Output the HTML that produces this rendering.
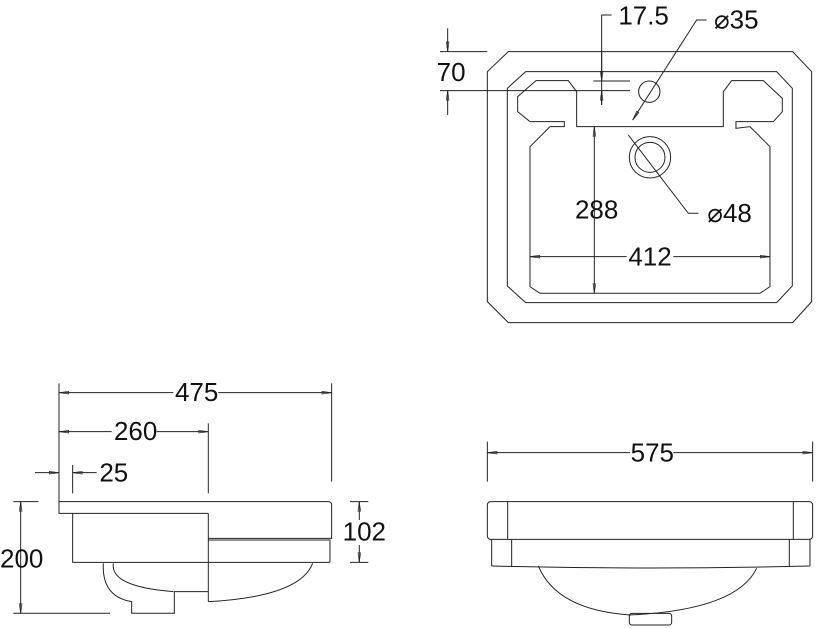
<!DOCTYPE html>
<html><head><style>html,body{margin:0;padding:0;background:#fff}svg{display:block}text{font-family:"Liberation Sans",sans-serif;font-size:78px;fill:#111}</style></head>
<body>
<svg width="821" height="629" viewBox="0 0 821 629" xmlns="http://www.w3.org/2000/svg">
<defs>
<marker id="a" markerUnits="userSpaceOnUse" markerWidth="32" markerHeight="14" refX="30" refY="7" orient="auto"><path d="M1,3 L30,7 L1,11 Z" fill="none" stroke="#222" stroke-width="2"/></marker>
<marker id="b" markerUnits="userSpaceOnUse" markerWidth="32" markerHeight="14" refX="2" refY="7" orient="auto"><path d="M31,3 L2,7 L31,11 Z" fill="none" stroke="#222" stroke-width="2"/></marker>
</defs>
<g transform="translate(430,0) scale(0.3333)" fill="none" stroke="#222" stroke-width="3">
<path d="M235,155 L1088,155 L1145,215 L1145,905 L1088,968 L235,968 L172,905 L172,215 Z"/>
<path d="M287,215 L1040,215 L1087,265 L1087,858 L1040,908 L287,908 L232,858 L232,265 Z"/>
<path d="M318,242 L415,242 L440,275 L440,380 L880,380 L880,275 L905,242 L1000,242 L1057,295 L1057,335 L1030,365 L918,365 L918,385 L960,380 L1020,440 L1020,860 L990,880 L330,880 L300,860 L300,440 L360,380 L403,380 L403,365 L300,365 L263,335 L263,290 Z"/>
<circle cx="658" cy="275" r="32"/>
<circle cx="660" cy="472" r="62"/><circle cx="660" cy="472" r="45"/>
<path d="M608,360 L800,60 L830,60" marker-start="url(#b)"/>
<path d="M595,405 L775,640 L805,640"/>
<path d="M545,45 L515,45 L515,315"/>
<path d="M490,243 L600,243 M30,272 L600,272 M30,155 L172,155"/>
<path d="M53,85 L53,155" marker-end="url(#a)"/>
<path d="M53,345 L53,272" marker-end="url(#a)"/>
<path d="M515,150 L515,243" marker-end="url(#a)"/>
<path d="M515,315 L515,272" marker-end="url(#a)"/>
<path d="M493,380 L493,880" marker-start="url(#b)" marker-end="url(#a)"/>
<path d="M300,770 L590,770" marker-start="url(#b)"/><path d="M730,770 L1020,770" marker-end="url(#a)"/>
<g stroke="none">
<text x="565" y="73">17.5</text><text x="20" y="243">70</text>
<text x="852" y="86">⌀35</text><text x="832" y="666">⌀48</text>
<text x="435" y="656">288</text><text x="595" y="797">412</text>
</g>
</g>
<g transform="translate(0,370) scale(0.3333)" fill="none" stroke="#222" stroke-width="3">
<path d="M177,40 L177,395 M995,40 L995,335 M625,160 L625,370 M218,285 L218,370"/>
<path d="M177,68 L520,68" marker-start="url(#b)"/><path d="M655,68 L995,68" marker-end="url(#a)"/>
<path d="M177,185 L335,185" marker-start="url(#b)"/><path d="M470,185 L625,185" marker-end="url(#a)"/>
<path d="M105,308 L177,308" marker-end="url(#a)"/><path d="M290,308 L218,308" marker-end="url(#a)"/>
<path d="M177,395 L985,395 Q995,395 995,405 L995,505 L625,505 M625,510 L990,510 L990,577 M177,395 L177,430 L625,430 M218,430 L218,577 L990,577 M625,430 L625,695"/>
<path d="M310,580 Q305,680 395,695 L395,730 L523,730 L523,665 L625,665 M340,580 Q330,650 520,665 M625,695 Q900,680 938,580"/>
<path d="M40,395 L115,395 M40,730 L330,730 M1050,395 L1105,395 M1050,577 L1105,577"/>
<path d="M62,395 L62,730" marker-start="url(#b)" marker-end="url(#a)"/>
<path d="M1078,450 L1078,395" marker-end="url(#a)"/><path d="M1078,525 L1078,577" marker-end="url(#a)"/>
<g stroke="none">
<text x="525" y="93">475</text><text x="342" y="210">260</text><text x="298" y="334">25</text>
<text x="0" y="592">200</text><text x="1028" y="512">102</text>
</g>
</g>
<g transform="translate(470,430) scale(0.3333)" fill="none" stroke="#222" stroke-width="3">
<path d="M52,35 L52,155 M1028,35 L1028,155"/>
<path d="M52,68 L480,68" marker-start="url(#b)"/><path d="M610,68 L1028,68" marker-end="url(#a)"/>
<rect x="52" y="215" width="976" height="113" rx="10"/>
<path d="M113,215 L113,328 M970,215 L970,328 M65,328 L65,408 M1020,328 L1020,408 M125,328 L125,408 M958,328 L958,408"/>
<path d="M65,408 Q540,420 1020,408"/>
<path d="M205,408 Q260,540 480,555 Q800,540 860,415"/>
<rect x="478" y="550" width="127" height="35" rx="8"/>
<g stroke="none"><text x="482" y="94">575</text></g>
</g>
</svg>
</body></html>
